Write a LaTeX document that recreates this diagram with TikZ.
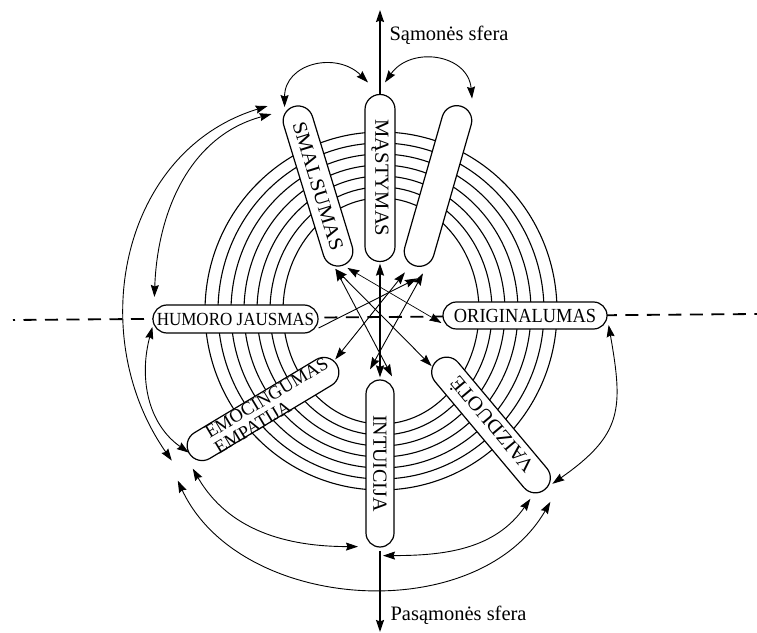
\documentclass[tikz,border=0pt]{standalone}
\usepackage{fontspec}
\setmainfont{Liberation Serif}
\usepackage{graphicx}
\usetikzlibrary{arrows.meta, shapes.misc}

\newcommand{\capfont}{\fontsize{20}{20}\selectfont}
\newcommand{\smallcapfont}{\fontsize{18.5}{18}\selectfont}
% text that may run into the round ends of a capsule
\newcommand{\captext}[2][1]{\makebox[0pt]{\scalebox{#1}[1]{#2}}}

\begin{document}
\begin{tikzpicture}[x=1pt, y=1pt,
    >={Stealth[length=12pt, width=8pt, inset=1.5pt]},
    capsule/.style={draw, rounded rectangle, fill=white, line width=1.2pt,
      minimum width=166pt, minimum height=30pt, inner sep=0pt, font=\capfont},
    ring/.style={line width=1.1pt},
    link/.style={<->, line width=0.9pt},
    axisline/.style={->, line width=1.6pt},
    halfline/.style={line width=1.8pt, dash pattern=on 13pt off 8.5pt, dash phase=11pt}
  ]
  \useasboundingbox (0,0) rectangle (757,632);

  % rings
  \foreach \i in {0,...,6}
    \draw[ring] (381,321) ellipse [x radius={176-13*\i}, y radius={179-11*\i}];

  % horizontal border line
  \draw[halfline] (13,312) -- (757,318);

  % capsules
  \node[capsule, rotate=-90, minimum width=167pt] (mast) at (380,454) {\captext[1.03]{MĄSTYMAS}};
  \node[capsule, rotate=-73] (smal) at (318,446) {\captext[1.07]{SMALSUMAS}};
  \node[capsule, rotate=74] (rc) at (438,446) {};
  \node[capsule, minimum width=165pt, minimum height=28pt, font=\smallcapfont] (hum) at (235.5,313) {\captext[0.92]{HUMORO JAUSMAS}};
  \node[capsule, minimum width=164pt, minimum height=27pt] (orig) at (525,316.5) {\captext[0.92]{ORIGINALUMAS}};
  \node[capsule, rotate=31, minimum width=172pt, font=\smallcapfont] (emo) at (263,223)
    {\makebox[0pt]{\hspace{18pt}\raisebox{-8pt}[0pt][0pt]{\begin{tabular}{@{}l@{}}EMOCINGUMAS\\EMPATIJA\end{tabular}}}};
  \node[capsule, rotate=-90, minimum width=167pt, minimum height=28pt] (intu) at (380,168.5) {\captext{INTUICIJA}};
  \node[capsule, rotate=130, minimum width=168pt] (vaiz) at (491,207) {\captext[1.05]{VAIZDUOTĖ}};

  % main axis
  \coordinate (up) at (380,622);
  \coordinate (down) at (380,0);
  \draw[axisline] (mast.west) -- (up);
  \draw[axisline] ([yshift=-3]intu.east) -- (down);
  \node[anchor=west, font=\fontsize{20.5}{22}\selectfont] (samone) at (386,597) {Sąmonės sfera};
  \node[anchor=west, font=\fontsize{20.5}{22}\selectfont] (pasamone) at (387,17) {Pasąmonės sfera};

  % links through the middle
  \draw[link, line width=1.6pt] ([shift={(0,-1.5)}]mast.east) -- ([shift={(0,2)}]intu.west);
  \draw[link] ([shift={(-7,-3)}]smal.east) -- ([shift={(12,3)}]intu.west);
  \draw[link] ([shift={(-7,-3)}]smal.east) -- ([shift={(-5,-6)}]vaiz.east);
  \draw[link, line width=0.7pt] ([shift={(5,-2)}]smal.east) -- ([shift={(-1,-7.5)}]orig.west);
  \draw[link] ([shift={(-10,-6)}]rc.west) -- ([shift={(-2,5)}]emo.east);
  \draw[->, line width=0.9pt] ([shift={(0,-9)}]hum.east) -- ([shift={(2,-12)}]rc.west);
  \draw[link] ([shift={(8,-7)}]rc.west) -- ([shift={(-10,10)}]intu.west);

  % links round the outside
  \draw[link] ([shift={(-9,-1)}]smal.west) to[out=90, in=135, looseness=1.3] ([shift={(-12,11.5)}]mast.west);
  \draw[link] ([shift={(5,11.5)}]mast.west) to[out=55, in=95, looseness=1.3] ([shift={(11,7)}]rc.east);
  \draw[link] ([shift={(-26,0)}]smal.west) to[out=197, in=125, looseness=1.07] ([shift={(-17,-7)}]emo.west);
  \draw[link] ([shift={(-22,-8)}]smal.west) to[out=195, in=88] ([shift={(2,22)}]hum.west);
  \draw[link] ([shift={(0,-8)}]hum.west) to[out=255, in=145] ([shift={(0,1)}]emo.west);
  \draw[link] ([shift={(1,-9.5)}]orig.east) to[out=280, in=35, looseness=1.3] ([shift={(7,6)}]vaiz.west);
  \draw[link] ([shift={(4,-15)}]emo.west) to[out=-60, in=180] ([shift={(-22,1)}]intu.east);
  \draw[link] ([shift={(-11,-27)}]emo.west) to[out=-65, in=240] ([shift={(5,-12)}]vaiz.west);
  \draw[link] ([shift={(3,-8)}]intu.east) to[out=0, in=235] ([shift={(-15,-9)}]vaiz.west);
\end{tikzpicture}
\end{document}
